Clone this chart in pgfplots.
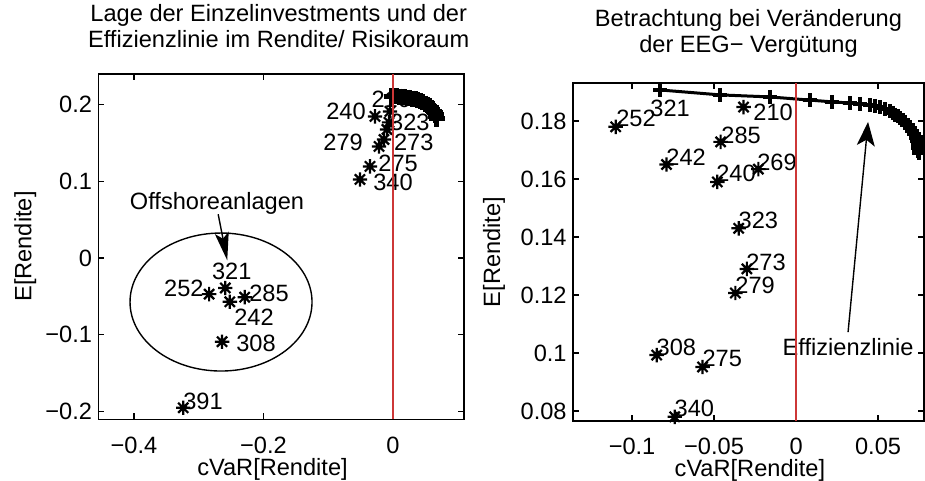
\documentclass[border=0pt]{standalone}
\usepackage{fontspec}
\setmainfont{Liberation Sans}
\usepackage{pgfplots}
\pgfplotsset{compat=1.18}
\usetikzlibrary{arrows.meta}

\pgfdeclareplotmark{mstar}{%
  \pgfpathmoveto{\pgfqpoint{-\pgfplotmarksize}{0pt}}\pgfpathlineto{\pgfqpoint{\pgfplotmarksize}{0pt}}%
  \pgfpathmoveto{\pgfqpoint{0pt}{-\pgfplotmarksize}}\pgfpathlineto{\pgfqpoint{0pt}{\pgfplotmarksize}}%
  \pgfpathmoveto{\pgfqpoint{-0.707\pgfplotmarksize}{-0.707\pgfplotmarksize}}\pgfpathlineto{\pgfqpoint{0.707\pgfplotmarksize}{0.707\pgfplotmarksize}}%
  \pgfpathmoveto{\pgfqpoint{-0.707\pgfplotmarksize}{0.707\pgfplotmarksize}}\pgfpathlineto{\pgfqpoint{0.707\pgfplotmarksize}{-0.707\pgfplotmarksize}}%
  \pgfusepathqstroke}

\definecolor{zeroline}{RGB}{205,55,55}

\pgfplotsset{
  myax/.style={
    scale only axis,
    axis line style={line width=0.8pt, black},
    tick align=inside, major tick length=3pt,
    tick style={line width=0.6pt, black},
    xticklabel style={inner sep=0pt, yshift=-8.5pt},
    yticklabel style={inner sep=0pt, xshift=-3pt},
    title style={align=center},
    clip mode=individual,
  },
  starpts/.style={only marks, mark=mstar, mark size=3.6pt, mark options={line width=1.1pt, black}, black},
  front/.style={black, line width=1.5pt, mark=+, mark size=3.5pt, mark options={line width=2.2pt, black}},
}

\begin{document}
\begin{tikzpicture}[font=\fontsize{11.8}{13}\selectfont]
\useasboundingbox (0,0) rectangle (462.5pt,240.5pt);

% ---------------- left axis ----------------
\begin{axis}[myax,
  at={(49.2pt,30.85pt)}, anchor=south west,
  width=182.9pt, height=172.8pt,
  xmin=-0.455, xmax=0.11, ymin=-0.21, ymax=0.24,
  xtick={-0.4,-0.2,0}, xticklabels={−0.4,−0.2,0},
  ytick={-0.2,-0.1,0,0.1,0.2}, yticklabels={−0.2,−0.1,0,0.1,0.2},
  xlabel={cVaR[Rendite]}, ylabel={E[Rendite]},
  xlabel style={at={(axis description cs:0.476,-0.1447)}, anchor=center},
  ylabel style={at={(axis description cs:-0.1996,0.5)}, anchor=center},
  title={Lage der Einzelinvestments und der\\Effizienzlinie im Rendite/ Risikoraum},
  title style={at={(axis description cs:0.493,1.1033)}, anchor=center},
]
\addplot[starpts] coordinates {
  (-0.0278,0.1844) (-0.0046,0.1909) (-0.0093,0.1674) (-0.0062,0.1766)
  (-0.0139,0.1544) (-0.0216,0.1453) (-0.0355,0.1193) (-0.0510,0.1023)
  (-0.259,-0.039) (-0.284,-0.047) (-0.252,-0.057) (-0.229,-0.051)
  (-0.264,-0.109) (-0.324,-0.195)
};
\node at (axis cs:-0.0726,0.1909) {240};
\node[anchor=west] at (axis cs:-0.044,0.2065) {210};
\node at (axis cs:0.026,0.1766) {323};
\node at (axis cs:-0.077,0.150) {279};
\node at (axis cs:0.032,0.150) {273};
\node at (axis cs:0.008,0.123) {275};
\node at (axis cs:0.0,0.099) {340};
\node at (axis cs:-0.249,-0.018) {321};
\node at (axis cs:-0.323,-0.039) {252};
\node at (axis cs:-0.1915,-0.0456) {285};
\node at (axis cs:-0.2147,-0.0768) {242};
\node at (axis cs:-0.2116,-0.1107) {308};
\node at (axis cs:-0.2934,-0.187) {391};
\node at (axis cs:-0.2718,0.071) {Offshoreanlagen};
\draw[line width=0.7pt] (axis cs:-0.2656,-0.0573) ellipse [x radius=45.5pt, y radius=34.5pt];
\draw[line width=0.7pt, -{Stealth[length=14pt,width=7pt,inset=3pt]}] (axis cs:-0.270,0.057) -- (axis cs:-0.256,-0.003);
\addplot[front, mark size=4pt, mark options={line width=2.6pt, black}] coordinates {
  (-0.002,0.2105) (0.002,0.2105) (0.006,0.2104) (0.010,0.2102) (0.014,0.2099)
  (0.018,0.2095) (0.022,0.2090) (0.026,0.2083) (0.030,0.2075) (0.034,0.2066)
  (0.038,0.2055) (0.042,0.2043) (0.046,0.2028) (0.050,0.2010) (0.053,0.1994)
  (0.056,0.1975) (0.059,0.1953) (0.061,0.1935) (0.063,0.1913) (0.0645,0.1890)
  (0.066,0.1865) (0.067,0.1840) (0.0675,0.1815)
};
\addplot[zeroline, line width=0.7pt] coordinates {(0,-0.21) (0,0.24)};
\end{axis}

% ---------------- right axis ----------------
\begin{axis}[myax,
  at={(286.5pt,30.05pt)}, anchor=south west,
  width=175.5pt, height=168.8pt,
  xmin=-0.136, xmax=0.078, ymin=0.0766, ymax=0.193,
  xtick={-0.1,-0.05,0,0.05}, xticklabels={−0.1,−0.05,0,0.05},
  ytick={0.08,0.1,0.12,0.14,0.16,0.18}, yticklabels={0.08,0.1,0.12,0.14,0.16,0.18},
  xlabel={cVaR[Rendite]}, ylabel={E[Rendite]},
  xlabel style={at={(axis description cs:0.504,-0.148)}, anchor=center},
  ylabel style={at={(axis description cs:-0.225,0.5)}, anchor=center},
  title={Betrachtung bei Veränderung\\der EEG− Vergütung},
  title style={at={(axis description cs:0.5,1.1126)}, anchor=center},
]
\addplot[starpts] coordinates {
  (-0.110,0.178) (-0.032,0.1848) (-0.046,0.1728) (-0.079,0.165)
  (-0.048,0.159) (-0.023,0.1634) (-0.035,0.143) (-0.030,0.129)
  (-0.037,0.1207) (-0.085,0.0993) (-0.057,0.0952) (-0.074,0.078)
};
\node at (axis cs:-0.0976,0.181) {252};
\node at (axis cs:-0.0768,0.1845) {321};
\node at (axis cs:-0.014,0.183) {210};
\node at (axis cs:-0.0335,0.175) {285};
\node at (axis cs:-0.067,0.1676) {242};
\node at (axis cs:-0.0366,0.162) {240};
\node at (axis cs:-0.0116,0.1659) {269};
\node at (axis cs:-0.023,0.1459) {323};
\node at (axis cs:-0.0183,0.1314) {273};
\node at (axis cs:-0.025,0.1234) {279};
\node at (axis cs:-0.073,0.1021) {308};
\node at (axis cs:-0.045,0.0983) {275};
\node at (axis cs:-0.062,0.081) {340};
\node at (axis cs:0.0317,0.1021) {Effizienzlinie};
\draw[line width=0.7pt, -{Stealth[length=12pt,width=9pt,inset=3pt]}] (axis cs:0.0317,0.1072) -- (axis cs:0.0439,0.1797);
\addplot[front] coordinates {
  (-0.0829,0.1907) (-0.0463,0.1890) (-0.0159,0.1883) (0.0085,0.1872) (0.0220,0.1866)
  (0.0330,0.1862) (0.0390,0.1859) (0.0450,0.1855) (0.0482,0.1852) (0.0512,0.1847)
  (0.0543,0.1841) (0.0573,0.1833) (0.0590,0.1828) (0.0604,0.1822) (0.0620,0.1816)
  (0.0634,0.1810) (0.0650,0.1803) (0.0665,0.1795) (0.0680,0.1786) (0.0695,0.1776)
  (0.0708,0.1766) (0.0720,0.1755) (0.0730,0.1743) (0.0738,0.1731) (0.0742,0.1719)
  (0.0744,0.1707) (0.0747,0.1698) (0.0750,0.1690)
};
\addplot[zeroline, line width=0.7pt] coordinates {(0,0.0766) (0,0.193)};
\end{axis}
\end{tikzpicture}
\end{document}
